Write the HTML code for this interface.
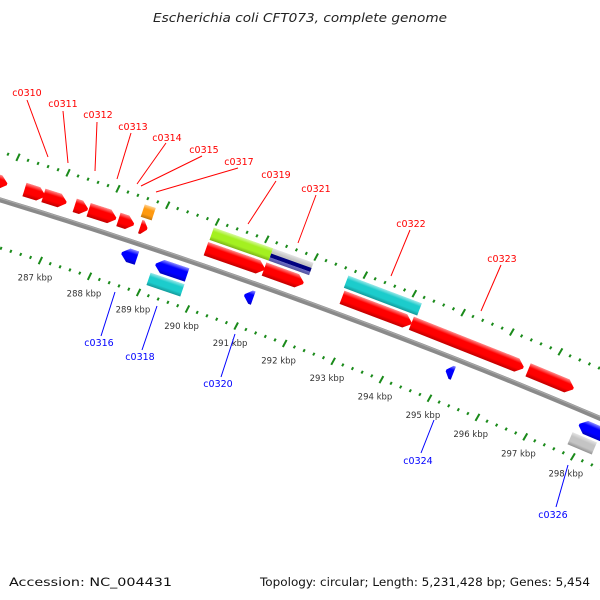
<!DOCTYPE html>
<html><head><meta charset="utf-8"><style>
html,body{margin:0;padding:0;background:#fff;}
svg{display:block;}
text{font-family:"DejaVu Sans","Liberation Sans",sans-serif;}
</style></head><body>
<svg id="map" width="600" height="600" viewBox="0 0 600 600" xmlns="http://www.w3.org/2000/svg">
<defs>
<linearGradient id="shade" x1="0" y1="0" x2="0" y2="1">
<stop offset="0" stop-color="#fff" stop-opacity="0.55"/>
<stop offset="0.3" stop-color="#fff" stop-opacity="0"/>
<stop offset="0.7" stop-color="#000" stop-opacity="0"/>
<stop offset="1" stop-color="#000" stop-opacity="0.25"/>
</linearGradient>
</defs>
<text x="300" y="22" text-anchor="middle" font-size="12" font-style="italic" fill="#222" textLength="294" lengthAdjust="spacingAndGlyphs">Escherichia coli CFT073, complete genome</text>
<g id="backbone"></g>
<g id="ticks"></g>
<g id="genes"></g>
<g id="labels"></g>
<text x="9" y="586" font-size="11.5" fill="#111" textLength="163" lengthAdjust="spacingAndGlyphs">Accession: NC_004431</text>
<text x="590" y="586" text-anchor="end" font-size="11.5" fill="#111" textLength="330" lengthAdjust="spacingAndGlyphs">Topology: circular; Length: 5,231,428 bp; Genes: 5,454</text>
</svg>
<script>
// ---- data ----
const geneStarts  = [285.4,286.3,286.68,287.31,287.59,288.19,288.63,289.96,291.14,292.73,294.15,296.56, 288.58,289.97,291.17,292.7, 288.45,289.14,290.95,295.1,297.87, 289.1,297.81];
const geneEnds    = [285.95,286.71,287.14,287.57,288.14,288.5,288.77,291.15,291.94,294.15,296.46,297.5, 288.8,291.17,291.99,294.2, 288.76,289.78,291.13,295.25,298.5, 289.79,298.32];
const geneStrands = [1,1,1,1,1,1,1,1,1,1,1,1, 1,1,1,1, -1,-1,-1,-1,-1, -1,-1];
const geneRows    = [1,1,1,1,1,1,1,1,1,1,1,1, 2,2,2,2, 1,1,1,1,1, 2,2];
const geneKinds   = ['red','red','red','red','red','red','red','red','red','red','red','red','orange','green','navy','cyan','blue','blue','blue','blue','blue','cyan','gray'];
const tickLabels  = [287,288,289,290,291,292,293,294,295,296,297,298];
const geneLabelNames = ['c0310','c0311','c0312','c0313','c0314','c0315','c0317','c0319','c0321','c0322','c0323','c0316','c0318','c0320','c0324','c0326'];

// ---- geometry ----
const C={x:-1750,y:5939}, R0=6000, PHI0=17.5, DEG=0.4966, K0=287;
const NS='http://www.w3.org/2000/svg';
function ang(k){return PHI0+(k-K0)*DEG;}
function pt(k,r){const a=ang(k)*Math.PI/180;return [C.x+r*Math.sin(a),C.y-r*Math.cos(a)];}
function mk(tag,attrs,parent){const e=document.createElementNS(NS,tag);for(const k in attrs)e.setAttribute(k,attrs[k]);parent.appendChild(e);return e;}
const colors={red:'#ff0000',blue:'#0000ff',cyan:'#1ccccc',green:'#a4f020',orange:'#ff9a10',gray:'#c4c4c4',navy:'#c4c4c4'};

// backbone
const bb=document.getElementById('backbone');
function arcPath(r){let d='';for(let k=283;k<=301;k+=0.25){const p=pt(k,r);d+=(d?'L':'M')+p[0].toFixed(2)+' '+p[1].toFixed(2);}return d;}
const bbMain=mk('path',{d:arcPath(R0),stroke:'#8a8a8a','stroke-width':5,fill:'none'},bb);


const bbHi=mk('path',{d:arcPath(R0+1.5),stroke:'#a8a8a8','stroke-width':1.2,fill:'none'},bb);



// ticks
const tg=document.getElementById('ticks');
[R0+46,R0-46].forEach(function(r){
  for(let i=283*5;i<=300*5;i++){
    const k=i/5;const p=pt(k,r);const a=ang(k);
    const major=(i%5===0);
    const t=mk('rect',{x:-1,y:major?-4:-1.5,width:2,height:major?8:3,fill:'#1a8a1a',transform:'translate('+p[0].toFixed(2)+','+p[1].toFixed(2)+') rotate('+(a+8).toFixed(2)+')'},tg);
    
    
  }
});
tickLabels.forEach(function(k){
  const p=pt(k,R0-46-18);
  const t=mk('text',{x:p[0].toFixed(1),y:(p[1]+3).toFixed(1),'text-anchor':'middle','font-size':8.5,fill:'#333'},tg);
  t.textContent=k+' kbp';
  
  
});

// genes
const gg=document.getElementById('genes');
for(let i=0;i<geneStarts.length;i++){
  const s=geneStarts[i],e=geneEnds[i],mid=(s+e)/2;
  const off=geneStrands[i]>0?(geneRows[i]===1?17:33):(geneRows[i]===1?-14:-30);
  const h=geneRows[i]===1?14:13;
  const p=pt(mid,R0+off);const a=ang(mid);
  const L=(e-s)*DEG*Math.PI/180*(R0+off);
  const g=mk('g',{transform:'translate('+p[0].toFixed(2)+','+p[1].toFixed(2)+') rotate('+a.toFixed(3)+')'},gg);
  
  
  const x0=-L/2,x1=L/2,y0=-h/2,y1=h/2;
  let pts;
  if(geneRows[i]===2){pts=[[x0,y0],[x1,y0],[x1,y1],[x0,y1]];}
  else{
    const hd=Math.min(7,L*0.7);
    if(geneStrands[i]>0)pts=[[x0,y0],[x1-hd,y0],[x1,-1],[x1,1],[x1-hd,y1],[x0,y1]];
    else pts=[[x1,y0],[x0+hd,y0],[x0,-1],[x0,1],[x0+hd,y1],[x1,y1]];
  }
  const ps=pts.map(q=>q[0].toFixed(2)+','+q[1].toFixed(2)).join(' ');
  mk('polygon',{points:ps,fill:colors[geneKinds[i]]},g);
  if(geneKinds[i]==='navy'){
    mk('rect',{x:x0,y:-1,width:L,height:4,fill:'#000080'},g);
    mk('rect',{x:x0,y:3,width:L,height:3.5,fill:'#7070d0'},g);
  }
  mk('polygon',{points:ps,fill:'url(#shade)'},g);
}

// gene labels (label position, line start, line end)
const lg=document.getElementById('labels');
const labelLayout=[
 [27,92,'red',27,100,48,157],[63,103,'red',63,111,68,163],[98,114,'red',97,122,95,171],
 [133,126,'red',131,133,117,179],[167,137,'red',166,143,137,184],[204,149,'red',202,156,141,186],
 [239,161,'red',238,168,156,192],[276,174,'red',276,181,248,224],[316,188,'red',316,195,298,243],
 [411,223,'red',410,230,391,276],[502,258,'red',501,265,481,311],
 [99,342,'blue',115,292,101,336],[140,356,'blue',157,306,142,350],[218,383,'blue',235,334,221,377],
 [418,460,'blue',434,420,421,453],[553,514,'blue',568,465,556,507]];
labelLayout.forEach(function(l,i){
  const c=l[2]==='red'?'#ff0000':'#0000ff';
  const ln=mk('line',{x1:l[3],y1:l[4],x2:l[5],y2:l[6],stroke:c,'stroke-width':1},lg);
  
  
  const t=mk('text',{x:l[0],y:l[1]+4,'text-anchor':'middle','font-size':9.5,fill:c},lg);
  t.textContent=geneLabelNames[i];
  
  
});
</script>
</body></html>
